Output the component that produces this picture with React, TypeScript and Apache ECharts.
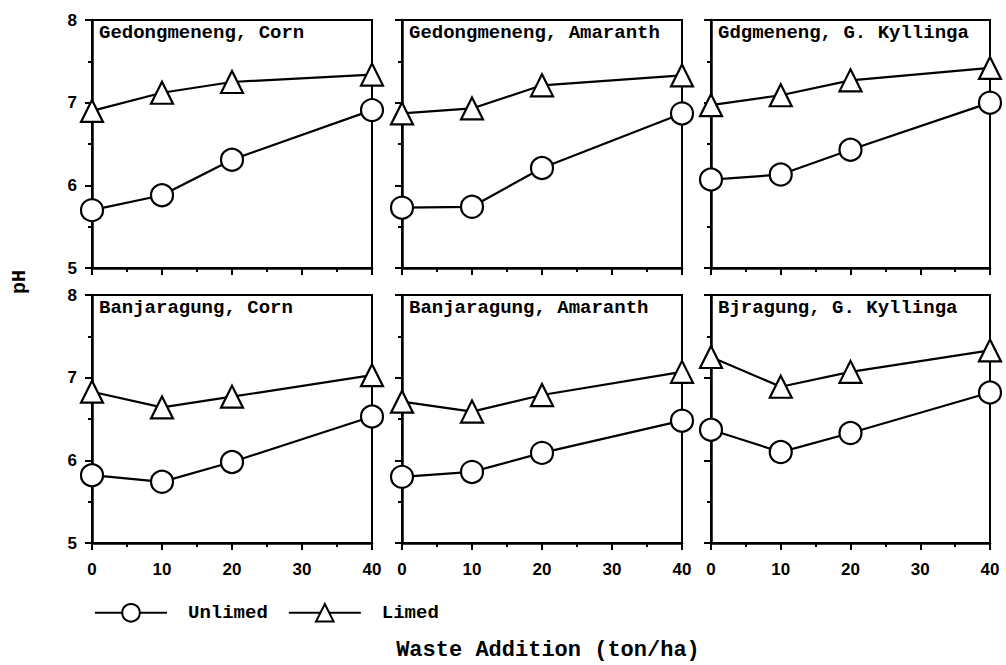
import React, { useEffect, useRef } from "react";
import * as echarts from "echarts";

const wasteLevels = [0, 10, 20, 40];
const panelTitles = [
  "Gedongmeneng, Corn",
  "Gedongmeneng, Amaranth",
  "Gdgmeneng, G. Kyllinga",
  "Banjaragung, Corn",
  "Banjaragung, Amaranth",
  "Bjragung, G. Kyllinga",
];
const gcUnlimed = [5.7, 5.88, 6.31, 6.91];
const gcLimed = [6.9, 7.12, 7.25, 7.34];
const gaUnlimed = [5.73, 5.74, 6.21, 6.87];
const gaLimed = [6.87, 6.93, 7.21, 7.33];
const gkUnlimed = [6.07, 6.13, 6.43, 7.0];
const gkLimed = [6.97, 7.09, 7.27, 7.42];
const bcUnlimed = [5.82, 5.74, 5.98, 6.53];
const bcLimed = [6.83, 6.64, 6.77, 7.03];
const baUnlimed = [5.8, 5.86, 6.09, 6.48];
const baLimed = [6.71, 6.59, 6.79, 7.07];
const bkUnlimed = [6.37, 6.1, 6.33, 6.82];
const bkLimed = [7.25, 6.89, 7.07, 7.33];
const unlimedSets = [gcUnlimed, gaUnlimed, gkUnlimed, bcUnlimed, baUnlimed, bkUnlimed];
const limedSets = [gcLimed, gaLimed, gkLimed, bcLimed, baLimed, bkLimed];
const xTicks = [0, 10, 20, 30, 40];
const yTicks = [5, 6, 7, 8];

const MONO = "'Liberation Mono', 'DejaVu Sans Mono', monospace";
const SANS = "'Liberation Sans', Arial, sans-serif";

export default function App() {
  const ref = useRef<HTMLDivElement>(null);
  useEffect(() => {
    if (!ref.current) return;
    const chart = echarts.init(ref.current, null, { renderer: "svg" });
    const colLeft = [92, 402, 711];
    const colWidth = [280, 280, 279];
    const rowTop = [20, 295];
    const rowHeight = 248;
    const grids: any[] = [];
    const xAxes: any[] = [];
    const yAxes: any[] = [];
    const titles: any[] = [];
    const series: any[] = [];
    for (let i = 0; i < 6; i++) {
      const r = Math.floor(i / 3);
      const c = i % 3;
      grids.push({
        left: colLeft[c],
        top: rowTop[r],
        width: colWidth[c],
        height: rowHeight,
        show: true,
        borderColor: "#000",
        borderWidth: 2,
        backgroundColor: "transparent",
      });
      xAxes.push({
        gridIndex: i,
        type: "value",
        min: xTicks[0],
        max: xTicks[xTicks.length - 1],
        interval: 10,
        axisLine: { show: true, lineStyle: { color: "#000", width: 2.5 } },
        axisTick: { show: true, inside: false, length: 7, lineStyle: { color: "#000", width: 2 } },
        minorTick: { show: true, splitNumber: 2, length: 4, lineStyle: { color: "#000", width: 2 } },
        splitLine: { show: false },
        axisLabel: {
          show: r === 1,
          margin: 18,
          color: "#000",
          fontFamily: SANS,
          fontWeight: "bold",
          fontSize: 17,
        },
      });
      yAxes.push({
        gridIndex: i,
        type: "value",
        min: yTicks[0],
        max: yTicks[yTicks.length - 1],
        interval: 1,
        axisLine: { show: true, lineStyle: { color: "#000", width: 2.5 } },
        axisTick: { show: true, inside: false, length: 7, lineStyle: { color: "#000", width: 2 } },
        minorTick: { show: true, splitNumber: 2, length: 4, lineStyle: { color: "#000", width: 2 } },
        splitLine: { show: false },
        axisLabel: {
          show: c === 0,
          margin: 15,
          color: "#000",
          fontFamily: SANS,
          fontWeight: "bold",
          fontSize: 17,
        },
      });
      titles.push({
        text: panelTitles[i],
        left: colLeft[c] + 7,
        top: rowTop[r] + 3,
        padding: 0,
        textStyle: { fontFamily: MONO, fontWeight: "bold", fontSize: 19, color: "#000" },
      });
      const common = {
        type: "line",
        xAxisIndex: i,
        yAxisIndex: i,
        symbolSize: 22,
        lineStyle: { color: "#000", width: 2.2 },
        itemStyle: { color: "#fff", borderColor: "#000", borderWidth: 2.2 },
        z: 3,
      };
      series.push({
        ...common,
        name: "Unlimed",
        symbol: "circle",
        data: wasteLevels.map((x, k) => [x, unlimedSets[i][k]]),
      });
      series.push({
        ...common,
        name: "Limed",
        symbol: "triangle",
        data: wasteLevels.map((x, k) => [x, limedSets[i][k]]),
      });
    }
    chart.setOption({
      animation: false,
      backgroundColor: "#fff",
      title: titles,
      grid: grids,
      xAxis: xAxes,
      yAxis: yAxes,
      series,
      legend: {
        data: ["Unlimed", "Limed"],
        left: 89,
        top: 598,
        itemWidth: 72,
        itemHeight: 22,
        itemGap: 20,
        selectedMode: false,
        textStyle: {
          fontFamily: MONO,
          fontWeight: "bold",
          fontSize: 19,
          color: "#000",
          padding: [0, 0, 0, 16],
        },
      },
      graphic: [
        {
          type: "text",
          x: 19,
          y: 282,
          rotation: Math.PI / 2,
          style: {
            text: "pH",
            fontFamily: MONO,
            fontWeight: "bold",
            fontSize: 20,
            fill: "#000",
            align: "center",
            verticalAlign: "middle",
          },
        },
        {
          type: "text",
          x: 548,
          y: 650,
          style: {
            text: "Waste Addition (ton/ha)",
            fontFamily: MONO,
            fontWeight: "bold",
            fontSize: 22,
            fill: "#000",
            align: "center",
            verticalAlign: "middle",
          },
        },
      ],
    });
    return () => chart.dispose();
  }, []);
  return (
    <div
      ref={ref}
      style={{ position: "absolute", left: 0, top: 0, width: 1006, height: 665 }}
    />
  );
}
